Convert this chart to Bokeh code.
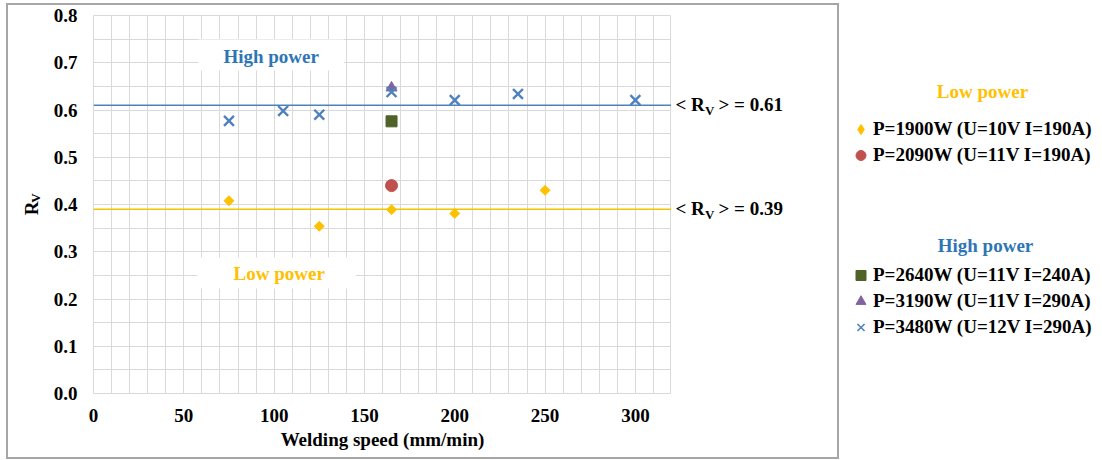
import numpy as np
from bokeh.plotting import figure
from bokeh.layouts import row
from bokeh.models import (Range1d, SingleIntervalTicker, FixedTicker, Label, BoxAnnotation,
                          Legend, LegendItem, Span, PrintfTickFormatter, InlineStyleSheet)
from bokeh.embed import file_html
from bokeh.resources import INLINE

# ---------------- data ----------------
speed_1900 = [75, 125, 165, 200, 250]
rv_1900 = [0.408, 0.354, 0.389, 0.381, 0.430]
speed_2090 = [165]
rv_2090 = [0.440]
speed_2640 = [165]
rv_2640 = [0.576]
speed_3190 = [165]
rv_3190 = [0.647]
speed_3480 = [75, 105, 125, 165, 200, 235, 300]
rv_3480 = [0.577, 0.598, 0.590, 0.638, 0.621, 0.634, 0.621]
mean_high = 0.61
mean_low = 0.39
x_ticks = [0, 50, 100, 150, 200, 250, 300]
y_ticks = [0.0, 0.1, 0.2, 0.3, 0.4, 0.5, 0.6, 0.7, 0.8]
labels_low = ["P=1900W (U=10V I=190A)", "P=2090W (U=11V I=190A)"]
labels_high = ["P=2640W (U=11V I=240A)", "P=3190W (U=11V I=290A)", "P=3480W (U=12V I=290A)"]

# ---------------- styling / layout ----------------
H = 460
XL1 = 50          # end of left title strip
FL, FR, FT, FB = 92, 671, 15, 393   # plot frame edges (page px)
XR1 = 843         # end of chart box strip
XG1 = 1100        # end of legend strip
XMAX, YMAX = 320, 0.8
SX = (FR - FL) / XMAX
SY = (FB - FT) / YMAX
FONT = "Liberation Serif"
GRID = "#D9D9D9"
C_YEL, C_RED, C_GRN, C_PUR, C_BLU = "#FFC000", "#C0504D", "#4F6228", "#8064A2", "#4F81BD"
C_HIGH_TXT = "#2E75B6"


def fx(px):
    return (px - FL) / SX


def fy(py):
    return (FB - py) / SY


def add_text(fig, x, y, txt, color="black", size="19px", align="center", xo=0, yo=0, angle=0):
    fig.add_layout(Label(x=x, y=y, text=txt, text_font=FONT, text_font_style="bold",
                         text_font_size=size, text_color=color, text_align=align,
                         text_baseline="middle", x_offset=xo, y_offset=yo, angle=angle))


def strip_fig(x0, x1):
    # a strip whose frame lines up vertically with the main plot frame; x in page px
    f = figure(width=x1 - x0, height=H, x_range=Range1d(x0, x1), y_range=Range1d(0, YMAX),
               output_backend="svg", toolbar_location=None,
               x_axis_type=None, y_axis_type=None,
               min_border_left=0, min_border_right=0, min_border_top=FT,
               min_border_bottom=H - FB)
    f.outline_line_color = None
    f.background_fill_color = "white"
    f.border_fill_color = "white"
    return f


# ---------------- main plot ----------------
p = figure(width=FR - XL1, height=H, x_range=Range1d(0, XMAX), y_range=Range1d(0, YMAX),
           output_backend="svg", toolbar_location=None,
           min_border_left=FL - XL1, min_border_top=FT,
           min_border_right=0, min_border_bottom=H - FB)
p.background_fill_color = "white"
p.border_fill_color = "white"
p.outline_line_color = GRID

p.xgrid.ticker = SingleIntervalTicker(interval=10)
p.ygrid.ticker = SingleIntervalTicker(interval=0.05)
for g in (p.xgrid, p.ygrid):
    g.grid_line_color = GRID
    g.grid_line_width = 1

p.xaxis.ticker = FixedTicker(ticks=x_ticks)
p.yaxis.ticker = FixedTicker(ticks=y_ticks)
p.yaxis.formatter = PrintfTickFormatter(format="%.1f")
for ax in (p.xaxis, p.yaxis):
    ax.axis_line_color = None
    ax.major_tick_line_color = None
    ax.minor_tick_line_color = None
    ax.major_tick_out = 0
    ax.major_tick_in = 0
    ax.major_label_text_font = FONT
    ax.major_label_text_font_style = "bold"
    ax.major_label_text_font_size = "19px"
    ax.major_label_text_color = "black"
p.yaxis.major_label_standoff = 16
p.xaxis.major_label_standoff = 15
p.xaxis.axis_label = "Welding speed (mm/min)"
p.xaxis.axis_label_text_font = FONT
p.xaxis.axis_label_text_font_style = "bold"
p.xaxis.axis_label_text_font_size = "19px"
p.xaxis.axis_label_text_color = "black"
p.xaxis.axis_label_standoff = 4

# white boxes behind the in-plot captions
p.add_layout(BoxAnnotation(left=fx(197), right=fx(343), top=fy(39), bottom=fy(70),
                           fill_color="white", fill_alpha=1, line_color=None, level="underlay"))
p.add_layout(BoxAnnotation(left=fx(196), right=fx(355), top=fy(257), bottom=fy(288),
                           fill_color="white", fill_alpha=1, line_color=None, level="underlay"))

# mean lines
p.add_layout(Span(location=mean_high, dimension="width", line_color=C_BLU, line_width=1.5))
p.add_layout(Span(location=mean_low, dimension="width", line_color="#F2C500", line_width=1.5))

# series
p.scatter(speed_1900, rv_1900, marker="square", angle=np.pi / 4, size=7,
          fill_color=C_YEL, line_color=C_YEL)
p.scatter(speed_2090, rv_2090, marker="circle", size=12, fill_color=C_RED, line_color=C_RED)
p.scatter(speed_2640, rv_2640, marker="square", size=11, fill_color=C_GRN, line_color=C_GRN)
p.scatter(speed_3190, rv_3190, marker="triangle", size=11, fill_color=C_PUR, line_color=C_PUR)
p.scatter(speed_3480, rv_3480, marker="x", size=14, line_width=2.4, line_color=C_BLU)

add_text(p, fx(270), fy(56), "High power", color=C_HIGH_TXT)
add_text(p, fx(278), fy(273), "Low power", color=C_YEL)

# ---------------- left strip: y title R_V ----------------
fl = strip_fig(0, XL1)
add_text(fl, 31, fy(208), "R", angle=np.pi / 2)
add_text(fl, 35, fy(197.5), "V", size="13px", angle=np.pi / 2)

# ---------------- right strip: mean labels ----------------
fr = strip_fig(FR, XR1)
for m in (mean_high, mean_low):
    add_text(fr, 675, m, "< R", align="left", yo=1)
    add_text(fr, 704.5, m, "V", size="13px", align="left", yo=-5)
    add_text(fr, 718, m, "> = %.2f" % m, align="left", yo=1)

# ---------------- legend strip ----------------
fg = strip_fig(XR1, XG1)
add_text(fg, 982, fy(91), "Low power", color=C_YEL)
add_text(fg, 985, fy(245), "High power", color=C_HIGH_TXT)

# legend proxies: the same series, which fall outside this strip's x range
g1 = fg.scatter(speed_1900, rv_1900, marker="diamond", size=10,
                fill_color=C_YEL, line_color=C_YEL)
g2 = fg.scatter(speed_2090, rv_2090, marker="circle", size=10, fill_color=C_RED, line_color=C_RED)
g3 = fg.scatter(speed_2640, rv_2640, marker="square", size=10, fill_color=C_GRN, line_color=C_GRN)
g4 = fg.scatter(speed_3190, rv_3190, marker="triangle", size=10, fill_color=C_PUR, line_color=C_PUR)
g5 = fg.scatter(speed_3480, rv_3480, marker="x", size=12, line_width=1.6, line_color=C_BLU)


def make_legend(items, bottom_px):
    leg = Legend(items=items, location=(5, FB - bottom_px), orientation="vertical",
                 label_text_font=FONT, label_text_font_style="bold",
                 label_text_font_size="19px", label_text_color="black",
                 glyph_width=25, glyph_height=26, label_height=26, spacing=0,
                 padding=0, margin=0, label_standoff=0,
                 border_line_color=None, background_fill_alpha=0)
    fg.add_layout(leg)


make_legend([LegendItem(label=labels_low[0], renderers=[g1]),
             LegendItem(label=labels_low[1], renderers=[g2])], 168)
make_legend([LegendItem(label=labels_high[0], renderers=[g3]),
             LegendItem(label=labels_high[1], renderers=[g4]),
             LegendItem(label=labels_high[2], renderers=[g5])], 340)

# chart frame border drawn as an overlay on the chart box
border_css = InlineStyleSheet(css="""
:host { position: relative; }
:host::after {
  content: ""; position: absolute; left: 6px; top: 3px; width: 833px; height: 456px;
  box-sizing: border-box; border: 2px solid #A6A6A6; pointer-events: none; z-index: 100;
}
""")
box = row(fl, p, fr, spacing=0, stylesheets=[border_css])
layout = row(box, fg, spacing=0)

open("out.html", "w").write(file_html(layout, INLINE))
